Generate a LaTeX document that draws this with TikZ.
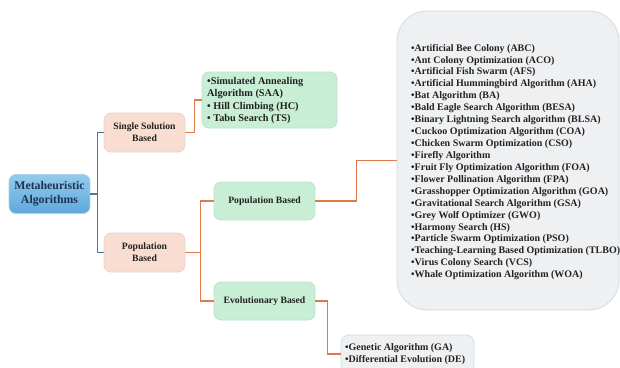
\documentclass[tikz,border=0pt]{standalone}
\usepackage{fontspec}
\setmainfont{Liberation Serif}
\definecolor{blueA}{HTML}{93CAEC}
\definecolor{blueB}{HTML}{5EA8DE}
\definecolor{blueE}{HTML}{A9CFE8}
\definecolor{navy}{HTML}{1C3350}
\definecolor{peach}{HTML}{F9DDD0}
\definecolor{peachE}{HTML}{E6D6D0}
\definecolor{mint}{HTML}{C9EED6}
\definecolor{mintE}{HTML}{BCE3C9}
\definecolor{grayF}{HTML}{EFF0F2}
\definecolor{grayE}{HTML}{CEDCE6}
\definecolor{txt}{HTML}{222222}
\definecolor{steel}{HTML}{4C7C95}
\definecolor{orng}{HTML}{E07A4B}
\tikzset{
  base/.style={rounded corners=7pt, line width=0.8pt, inner sep=0pt, align=center, text=txt, font=\bfseries\fontsize{9.7}{12}\selectfont},
  rootbox/.style={base, top color=blueA, bottom color=blueB, draw=blueE, text=navy, font=\bfseries\fontsize{11.8}{14}\selectfont},
  peachbox/.style={base, fill=peach, draw=peachE},
  mintbox/.style={base, fill=mint, draw=mintE},
  listbox/.style={base, fill=grayF, draw=grayE},
  listtext/.style={inner sep=0pt, align=left, text=txt, font=\bfseries\fontsize{10}{11.93}\selectfont},
  saatext/.style={inner sep=0pt, align=left, text=txt, font=\bfseries\fontsize{10.3}{12.2}\selectfont},
  bluelink/.style={draw=steel, line width=1.1pt},
  orangelink/.style={draw=orng, line width=1.1pt},
}
\begin{document}
\begin{tikzpicture}[x=1pt,y=-1pt]
\useasboundingbox (0,0) rectangle (620,367);
\clip (0,0) rectangle (620,367);
\fill[white] (0,0) rectangle (620,367);
% nodes
\node[rootbox, minimum width=81pt, minimum height=39pt] (meta) at (49.5,194) {Metaheuristic\\Algorithms};
\node[peachbox, minimum width=81pt, minimum height=39pt] (single) at (144.5,132.5) {Single Solution\\Based};
\node[peachbox, minimum width=81pt, minimum height=39pt] (popp) at (144.5,252.5) {Population\\Based};
\node[mintbox, minimum width=135pt, minimum height=56pt] (saa) at (269.5,100) {};
\node[saatext, anchor=west] (saatxt) at (207,100.5) {•Simulated Annealing\\Algorithm (SAA)\\• Hill Climbing (HC)\\• Tabu Search (TS)};
\node[mintbox, minimum width=101pt, minimum height=38pt] (popg) at (264.5,201) {Population Based};
\node[mintbox, minimum width=101pt, minimum height=38pt] (evo) at (264.5,301) {Evolutionary Based};
\node[listbox, rounded corners=30pt, minimum width=222pt, minimum height=299pt] (plist) at (508,160.5) {};
\node[listtext, anchor=west] (plisttext) at (411,162) {•Artificial Bee Colony (ABC)\\
•Ant Colony Optimization (ACO)\\
•Artificial Fish Swarm (AFS)\\
•Artificial Hummingbird Algorithm (AHA)\\
•Bat Algorithm (BA)\\
•Bald Eagle Search Algorithm (BESA)\\
•Binary Lightning Search algorithm (BLSA)\\
•Cuckoo Optimization Algorithm (COA)\\
•Chicken Swarm Optimization (CSO)\\
•Firefly Algorithm\\
•Fruit Fly Optimization Algorithm (FOA)\\
•Flower Pollination Algorithm (FPA)\\
•Grasshopper Optimization Algorithm (GOA)\\
•Gravitational Search Algorithm (GSA)\\
•Grey Wolf Optimizer (GWO)\\
•Harmony Search (HS)\\
•Particle Swarm Optimization (PSO)\\
•Teaching-Learning Based Optimization (TLBO)\\
•Virus Colony Search (VCS)\\
•Whale Optimization Algorithm (WOA)};
\node[listbox, rounded corners=8pt, minimum width=133pt, minimum height=38pt] (ga) at (407.5,354) {};
\node[listtext, anchor=north west] (gatext) at (345,343) {•Genetic Algorithm (GA)\\•Differential Evolution (DE)};
% connectors
\draw[bluelink] (meta.east) -- ++(7,0) coordinate (bj);
\draw[bluelink] (bj) |- (single.west);
\draw[bluelink] (bj) |- (popp.west);
\draw[orangelink] (single.east) -- ++(9,0) |- (saa.west);
\draw[orangelink] (popp.east) -- ++(15,0) coordinate (oj);
\draw[orangelink] (oj) |- (popg.west);
\draw[orangelink] (oj) |- (evo.west);
\draw[orangelink] (popg.east) -- ++(41,0) |- (plist.west);
\draw[orangelink] (evo.east) -- ++(12,0) |- (ga.west);
\end{tikzpicture}
\end{document}
